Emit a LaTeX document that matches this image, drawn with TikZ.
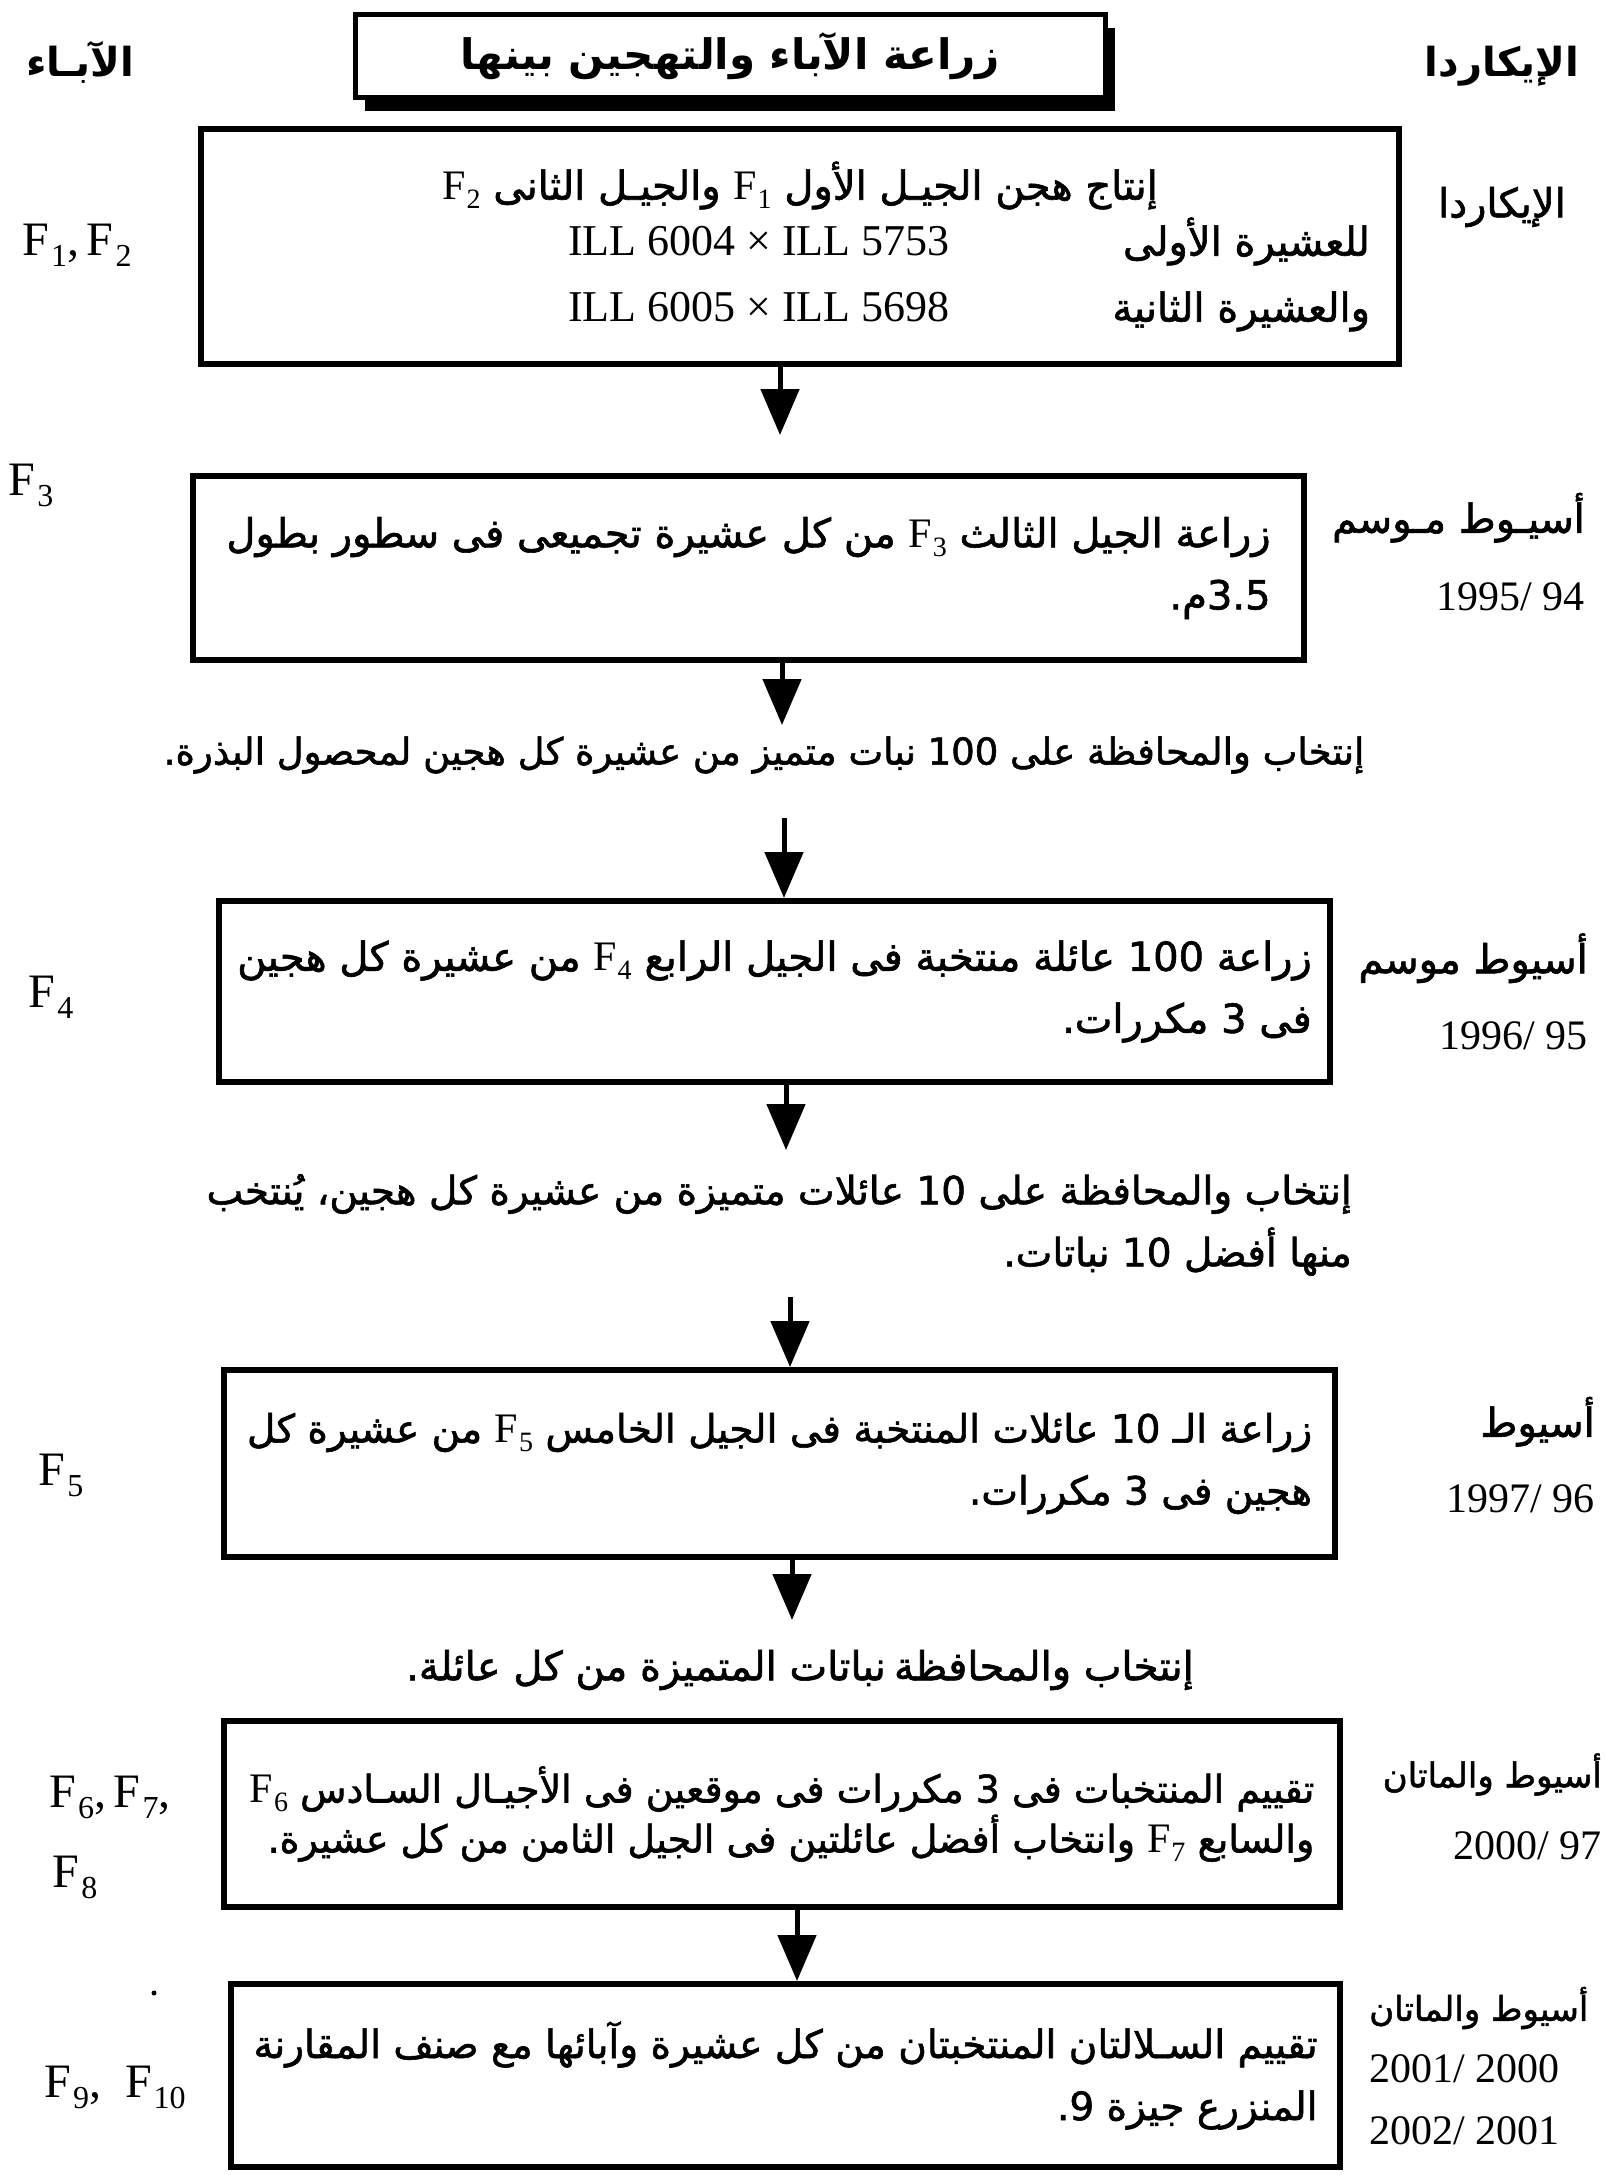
\documentclass[tikz,border=0pt]{standalone}
\usepackage{fontspec}
\setmainfont{Liberation Serif}
\newfontfamily\ar[Script=Arabic]{DejaVu Sans}
\newfontfamily\arb[Script=Arabic,FakeBold=1.5]{DejaVu Sans}
\TeXXeTstate=1
\usetikzlibrary{arrows.meta,shadows}

% sizes: one unit of the picture is one point
\newcommand\arsize{\fontsize{40}{62}\selectfont}
\newcommand\lsize{\fontsize{42}{62}\selectfont}
% a right-to-left line at the body size, or at a given size
\newcommand\RL[1]{\hbox{\arb\arsize\beginR #1\endR}}
\newcommand\RLs[2]{\hbox{\arb\fontsize{#1}{62}\selectfont\beginR #2\endR}}
% generation symbol F with index, in Latin text and inside Arabic text
\newcommand\Fs[1]{F\kern1pt\raisebox{-9pt}{\fontsize{28}{28}\selectfont #1}}
\newcommand\Fn[1]{\beginL{\rmfamily\lsize\Fs{#1}}\endL}
\newcommand\Fg[1]{F\kern2pt\raisebox{-11pt}{\fontsize{32}{32}\selectfont #1}}

\begin{document}
\begin{tikzpicture}[x=1pt,y=-1pt,
  stepbox/.style={draw, line width=6pt, inner sep=0pt, align=right, font=\arsize},
  headbox/.style={draw, line width=5pt, fill=white, inner sep=0pt,
    drop shadow={shadow xshift=9pt, shadow yshift=-14pt, fill=black, opacity=1}},
  arr/.style={line width=5pt, -{Triangle[width=38pt,length=46pt]}},
  gen/.style={inner sep=0pt, font=\fontsize{48}{60}\selectfont},
  place/.style={inner sep=0pt, font=\arsize},
  note/.style={inner sep=0pt, align=right, font=\arsize}]
\useasboundingbox (0,0) rectangle (1605,2175);

% column headings and title
\node[place] (hdL) at (80,62) {\hbox{\ar\bfseries\arsize\beginR الآبـاء\endR}};
\node[place] (hdR) at (1502,66) {\hbox{\ar\bfseries\arsize\beginR الإيكاردا\endR}};
\node[headbox, minimum width=750, minimum height=83] (title) at (730.5,56)
  {\hbox{\ar\bfseries\fontsize{42}{50}\selectfont\beginR زراعة الآباء والتهجين بينها\endR}};

% step 1: crosses
\node[stepbox, minimum width=1198, minimum height=235] (b1) at (800,246.5) {%
  \hbox to 1140pt{\hfil\arb\arsize\beginR إنتاج هجن الجيـل الأول \Fn{1} والجيـل الثانى \Fn{2}\endR\hfil}\\[-6pt]
  \hbox to 1140pt{\hskip 338pt{\fontsize{44}{62}\selectfont ILL 6004 × ILL 5753}\hfill\arb\arsize\beginR للعشيرة الأولى\endR}\\[4pt]
  \hbox to 1140pt{\hskip 338pt{\fontsize{44}{62}\selectfont ILL 6005 × ILL 5698}\hfill\arb\arsize\beginR والعشيرة الثانية\endR}};
\node[gen] (g1) at (77,245) {\Fg{1},\,\Fg{2}};
\node[place] (p1) at (1502,207) {\RL{الإيكاردا}};

% step 2: F3
\node[stepbox, minimum width=1111, minimum height=184] (b2) at (748.5,568) {%
  \RL{زراعة الجيل الثالث \Fn{3} من كل عشيرة تجميعى فى سطور بطول}\\
  \RL{3.5\kern0ptم.}};
\node[gen] (g2) at (31,485) {\Fg{3}};
\node[note, anchor=east] (p2) at (1585,552) {\RL{أسيـوط مـوسم}\\[16pt]\hbox{\lsize 1995/ 94}};

\node[note] (t1) at (764,755) {\RLs{37}{إنتخاب والمحافظة على 100 نبات متميز من عشيرة كل هجين لمحصول البذرة.}};

% step 3: F4
\node[stepbox, minimum width=1111, minimum height=181] (b3) at (774.5,991.5) {%
  \RL{زراعة 100 عائلة منتخبة فى الجيل الرابع \Fn{4} من عشيرة كل هجين}\\
  \RL{فى 3 مكررات.}};
\node[gen] (g3) at (51,997) {\Fg{4}};
\node[note, anchor=east] (p3) at (1588,991.5) {\RL{أسيوط موسم}\\[14pt]\hbox{\lsize 1996/ 95}};

\node[note, anchor=east] (t2) at (1352,1225) {%
  \RLs{39}{إنتخاب والمحافظة على 10 عائلات متميزة من عشيرة كل هجين، يُنتخب}\\
  \RLs{39}{منها أفضل 10 نباتات.}};

% step 4: F5
\node[stepbox, minimum width=1111, minimum height=187] (b4) at (779.5,1463.5) {%
  \RLs{39}{زراعة الـ 10 عائلات المنتخبة فى الجيل الخامس \Fn{5} من عشيرة كل}\\
  \RLs{39}{هجين فى 3 مكررات.}};
\node[gen] (g4) at (61,1475) {\Fg{5}};
\node[note, anchor=east] (p4) at (1595,1455) {\RL{أسيوط}\\[14pt]\hbox{\lsize 1997/ 96}};

\node[note, anchor=east] (t3a) at (1194,1670) {\RL{إنتخاب والمحافظة}};
\node[note] (t3b) at (646,1670) {\RL{نباتات المتميزة من كل عائلة.}};

% step 5: F6 - F8
\node[stepbox, minimum width=1116, minimum height=186] (b5) at (782,1814) {%
  \RLs{38}{تقييم المنتخبات فى 3 مكررات فى موقعين فى الأجيـال السـادس \Fn{6}}\\[-12pt]
  \RLs{38}{والسابع \Fn{7} وانتخاب أفضل عائلتين فى الجيل الثامن من كل عشيرة.}};
\node[gen] (g5) at (110,1797) {\Fg{6},\,\Fg{7},};
\node[gen] (g5b) at (75,1877) {\Fg{8}};
\node[note, anchor=east] (p5) at (1602,1806.5) {\RLs{34}{أسيوط والماتان}\\[10pt]\hbox{\lsize 2000/ 97}};

% step 6: F9, F10
\node[stepbox, minimum width=1109, minimum height=183] (b6) at (785.5,2075.5) {%
  \RLs{39}{تقييم السـلالتان المنتخبتان من كل عشيرة وآبائها مع صنف المقارنة}\\
  \RLs{39}{المنزرع جيزة 9\kern0pt.}};
\node[gen] (g6) at (115,2087) {\Fg{9},\ \ \Fg{10}};
\node[note, anchor=west, align=left] (p6) at (1369,2066)
  {\RLs{34}{أسيوط والماتان}\\\hbox{\lsize 2001/ 2000}\\\hbox{\lsize 2002/ 2001}};
\fill (154,1993) circle (2.5);

% flow arrows
\coordinate (e1) at (780,435);
\coordinate (e2) at (782,725);
\coordinate (s3) at (784,818);
\coordinate (e4) at (786,1150);
\coordinate (s5) at (790,1297);
\coordinate (e6) at (792,1620);
\coordinate (s7) at (797,1910);
\draw[arr] (e1 |- b1.south) -- (e1);
\draw[arr] (e2 |- b2.south) -- (e2);
\draw[arr] (s3) -- (s3 |- b3.north);
\draw[arr] (e4 |- b3.south) -- (e4);
\draw[arr] (s5) -- (s5 |- b4.north);
\draw[arr] (e6 |- b4.south) -- (e6);
\draw[arr] (s7 |- b5.south) -- (s7 |- b6.north);
\end{tikzpicture}
\end{document}
